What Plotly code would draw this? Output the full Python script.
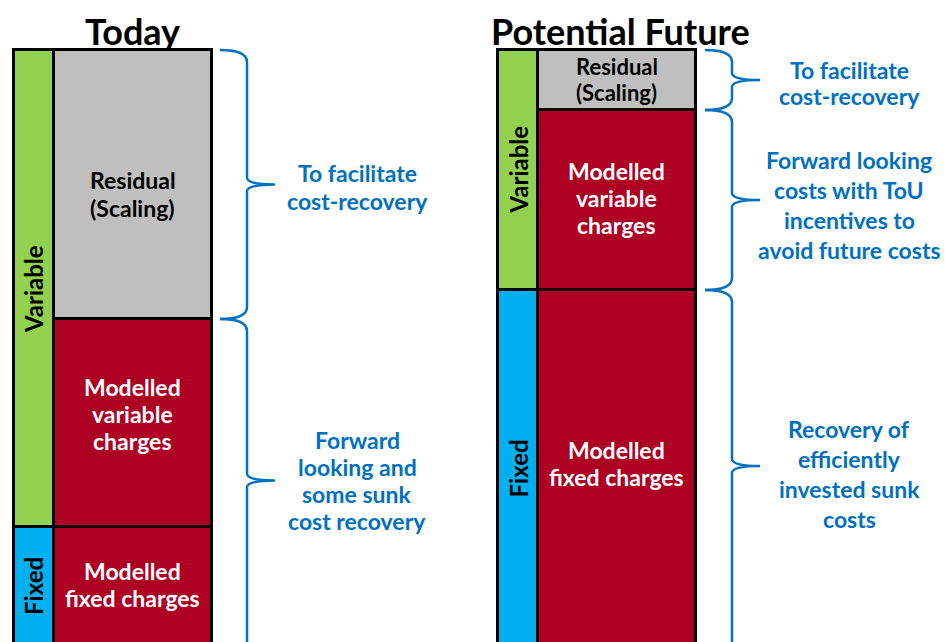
import plotly.graph_objects as go

# ---- data (segment sizes, in chart units) ----
columns = ["Today", "Potential Future"]
fixed_charges = [118, 355]          # Modelled fixed charges
variable_charges = [208, 180]       # Modelled variable charges
residual = [269, 60]                # Residual (Scaling)
side_fixed = fixed_charges
side_variable = [v + r for v, r in zip(variable_charges, residual)]

label_residual = ["Residual", "(Scaling)"]
label_variable = ["Modelled", "variable", "charges"]
label_fixed = ["Modelled", "fixed charges"]
brace_texts = [
    [["To facilitate", "cost-recovery"],
     ["Forward", "looking and", "some sunk", "cost recovery"]],
    [["To facilitate", "cost-recovery"],
     ["Forward looking", "costs with ToU", "incentives to", "avoid future costs"],
     ["Recovery of", "efficiently", "invested sunk", "costs"]],
]

# ---- layout constants ----
Y0, Y1 = 3, 645
side_x = [33.5, 517.5]
main_x = [132.5, 616.5]
side_w = 40
main_w = 158
brace_x = [247, 732]
text_x = [357, 849]
font = "Lato"
RED = "#AE0023"
BLUE_T = "#0070C0"
FS = 23

fig = go.Figure()
line = dict(color="black", width=3)

def bar(x, y, w, color):
    fig.add_trace(go.Bar(x=x, y=y, width=[w] * len(x), marker=dict(color=color, line=line),
                         hoverinfo="skip", showlegend=False))

bar(side_x, side_fixed, side_w, "#00B0F0")
bar(side_x, side_variable, side_w, "#92D050")
bar(main_x, fixed_charges, main_w, RED)
bar(main_x, variable_charges, main_w, RED)
bar(main_x, residual, main_w, "#BFBFBF")

def ann(x, y, text, size=FS, color="black", angle=0, yshift=0):
    fig.add_annotation(x=x, y=y, text=f"<b>{text}</b>", showarrow=False, textangle=angle,
                       font=dict(family=font, size=size, color=color), yshift=yshift)

def lines(x, y, texts, spacing=27, color="black", yshift=0, size=FS):
    n = len(texts)
    for k, t in enumerate(texts):
        ann(x, y, t, size=size, color=color, yshift=yshift - (k - (n - 1) / 2) * spacing)

def vis_mid(a, b):
    a, b = max(a, Y0), min(b, Y1)
    return (a + b) / 2

shifts_main = [(-9, 9, 0), (1, 2, 3)]
shifts_side = [(-1, -2), (0, -3)]
res_spacing = [28, 26]
for i in range(2):
    f, v, r = fixed_charges[i], variable_charges[i], residual[i]
    top = f + v + r
    sr, sv, sf = shifts_main[i]
    lines(main_x[i], vis_mid(f + v, top), label_residual, yshift=sr, spacing=res_spacing[i],
          size=FS if i == 0 else 22)
    lines(main_x[i], vis_mid(f, f + v), label_variable, color="white", yshift=sv)
    lines(main_x[i], vis_mid(0, f), label_fixed, color="white", yshift=sf)
    svv, sff = shifts_side[i]
    ann(side_x[i], vis_mid(f, top), "Variable", angle=-90, yshift=svv, size=24)
    ann(side_x[i], vis_mid(0, f), "Fixed", angle=-90, yshift=sff, size=24)
    fig.add_annotation(x=main_x[i] + (0 if i == 0 else 4), y=Y1, yanchor="top", yshift=-7,
                       text=f"<b>{columns[i]}</b>", showarrow=False,
                       font=dict(family=font, size=36, color="black"))

# braces
def brace(xv, lo, hi):
    lo_c, hi_c = max(lo, Y0 - 20), hi
    mid = vis_mid(lo, hi)
    xs = xv - 27
    xt = xv + 28
    p = (f"M {xs},{hi_c} Q {xv},{hi_c} {xv},{hi_c - 12} L {xv},{mid + 7} "
         f"Q {xv},{mid} {xt},{mid} Q {xv},{mid} {xv},{mid - 7} "
         f"L {xv},{lo_c + 12} Q {xv},{lo_c} {xs},{lo_c}")
    fig.add_shape(type="path", path=p, xref="x", yref="y", line=dict(color=BLUE_T, width=2.5))
    return mid

segs = [
    [(fixed_charges[0] + variable_charges[0], fixed_charges[0] + variable_charges[0] + residual[0]),
     (-30, fixed_charges[0] + variable_charges[0])],
    [(fixed_charges[1] + variable_charges[1], fixed_charges[1] + variable_charges[1] + residual[1]),
     (fixed_charges[1], fixed_charges[1] + variable_charges[1]),
     (-30, fixed_charges[1])],
]
text_shift = [[-2, 0], [-3, -5, -8]]
text_spacing = [[28, 27], [26, 30, 30]]
for i in range(2):
    for j, (lo, hi) in enumerate(segs[i]):
        mid = brace(brace_x[i], lo, hi)
        lines(text_x[i], mid, brace_texts[i][j], spacing=text_spacing[i][j],
              color=BLUE_T, yshift=text_shift[i][j])

fig.update_layout(
    width=945, height=642, margin=dict(l=0, r=0, t=0, b=0),
    barmode="stack", bargap=0,
    plot_bgcolor="white", paper_bgcolor="white",
    xaxis=dict(range=[0, 945], visible=False, fixedrange=True),
    yaxis=dict(range=[Y0, Y1], visible=False, fixedrange=True),
)
fig.write_html("out.html", config={"displayModeBar": False},
               post_script="document.body.style.margin='0';")
